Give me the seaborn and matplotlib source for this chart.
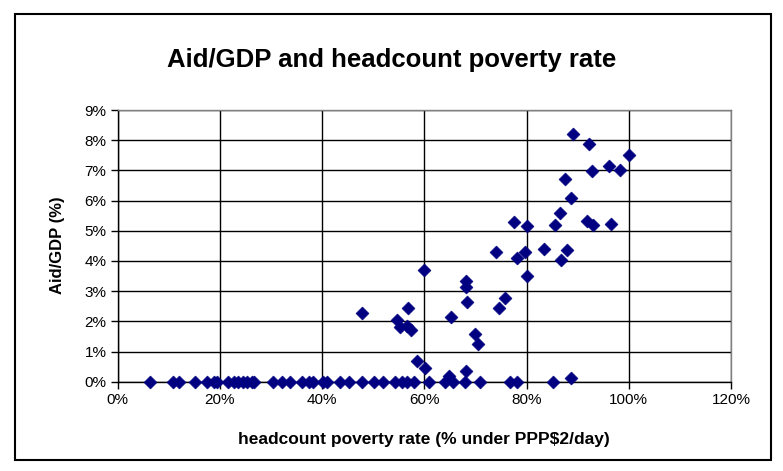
import matplotlib
matplotlib.use("Agg")
import matplotlib.pyplot as plt
from matplotlib.patches import Rectangle
from matplotlib.ticker import FuncFormatter
import pandas as pd
import seaborn as sns

# Headcount poverty rate (% of population under PPP$2/day) and aid as % of GDP
poverty_no_aid = [6.4, 10.8, 12.1, 15.2, 17.6, 18.9, 19.5, 21.7, 22.7, 23.5, 24.5,
                  25.3, 26.3, 26.7, 30.4, 32.1, 33.8, 36.1, 37.4, 38.3, 40.2, 41.0,
                  43.6, 45.3, 47.8, 50.1, 52.0, 54.3, 55.6, 56.6, 57.9, 60.9, 64.0,
                  65.6, 68.0, 71.0, 76.8, 78.2, 85.2]
aid_no_aid = [0.0] * len(poverty_no_aid)

poverty_aid = [47.8, 54.7, 55.3, 56.6, 56.9, 57.4, 58.6, 59.9, 60.2, 64.8, 65.2,
               68.2, 68.2, 68.2, 68.4, 70.0, 70.6, 74.1, 74.6, 75.7, 77.5, 78.2,
               79.8, 80.0, 80.0, 83.5, 85.5, 86.6, 86.8, 87.6, 87.9, 88.7, 88.8,
               89.0, 91.9, 92.3, 92.8, 93.1, 96.1, 96.6, 98.2, 100.0]
aid_gdp = [2.28, 2.03, 1.81, 1.86, 2.45, 1.72, 0.70, 3.69, 0.47, 0.19, 2.13,
           3.33, 3.15, 0.37, 2.65, 1.59, 1.24, 4.31, 2.45, 2.78, 5.28, 4.09,
           4.30, 5.15, 3.50, 4.41, 5.20, 5.58, 4.02, 6.70, 4.35, 6.08, 0.11,
           8.19, 5.33, 7.86, 6.97, 5.20, 7.15, 5.21, 7.02, 7.52]

x_ticks = [0, 20, 40, 60, 80, 100, 120]
y_ticks = [0, 1, 2, 3, 4, 5, 6, 7, 8, 9]

df = pd.DataFrame({
    "poverty": poverty_no_aid + poverty_aid,
    "aid": aid_no_aid + aid_gdp,
})

sns.set_style("white")
plt.rcParams["font.family"] = ["Liberation Sans", "DejaVu Sans"]
plt.rcParams.update({
    "text.color": "black",
    "axes.labelcolor": "black",
    "xtick.color": "black",
    "ytick.color": "black",
})

W, H = 783, 471
fig = plt.figure(figsize=(W / 100, H / 100), dpi=100)
fig.patch.set_facecolor("white")

left, right, top, bottom = 117.5, 731.0, 110.0, 381.7
ax = fig.add_axes([left / W, 1 - bottom / H, (right - left) / W, (bottom - top) / H])

sns.scatterplot(data=df, x="poverty", y="aid", marker="D", s=44,
                color="#000080", edgecolor="#000080", linewidth=0.4,
                ax=ax, clip_on=False, zorder=5)

ax.set_xlim(0, 120)
ax.set_ylim(0, 9)
ax.set_xticks(x_ticks)
ax.set_yticks(y_ticks)
ax.xaxis.set_major_formatter(FuncFormatter(lambda v, p: f"{v:.0f}%"))
ax.yaxis.set_major_formatter(FuncFormatter(lambda v, p: f"{v:.0f}%"))
ax.tick_params(axis="both", direction="out", length=5, width=1, color="black",
               labelcolor="black", labelsize=11, pad=3, left=True, bottom=True)

ax.grid(True, color="black", linewidth=1)
ax.set_axisbelow(True)
for side in ("left", "bottom"):
    ax.spines[side].set_color("black")
    ax.spines[side].set_linewidth(1)
for side in ("top", "right"):
    ax.spines[side].set_color("#808080")
    ax.spines[side].set_linewidth(1)

ax.set_xlabel("headcount poverty rate (% under PPP$2/day)", fontsize=12.5,
              fontweight="bold", color="black")
ax.set_ylabel("Aid/GDP (%)", fontsize=12, fontweight="bold", color="black")
ax.xaxis.set_label_coords((424 - left) / (right - left), (bottom - 432) / (bottom - top))
ax.yaxis.set_label_coords((65 - left) / (right - left), (bottom - 245) / (bottom - top))

fig.text(0.5, 1 - 60 / H, "Aid/GDP and headcount poverty rate", ha="center",
         va="center", fontsize=18.5, fontweight="bold", color="black")

fig.patches.append(Rectangle((15 / W, 1 - 460 / H), (771 - 15) / W, (460 - 14) / H,
                             transform=fig.transFigure, fill=False,
                             edgecolor="black", linewidth=1.5))

fig.savefig("out.png", dpi=100)
